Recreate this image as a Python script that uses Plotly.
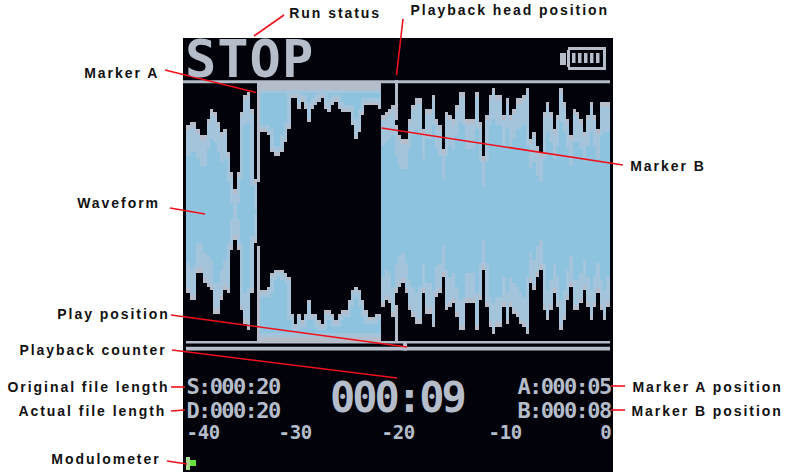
import numpy as np
import plotly.graph_objects as go

# Waveform envelope, in display rows of the 128-column device screen (index = column 1..126)
wave_top = [26,25,25,27,29,29,24,21,22,25,28,27,34,40,45,40,22,17,16,21,42,43,
            28,28,29,34,35,35,34,31,27,18,18,21,19,21,25,21,20,19,18,21,22,20,19,21,22,22,22,26,30,28,23,20,20,20,20,21,
            23,22,21,20,26,29,30,30,24,20,18,18,27,21,21,17,24,26,33,22,23,24,20,16,16,24,24,24,16,25,35,
            23,17,15,17,17,23,18,23,21,18,18,17,15,30,28,32,34,22,19,22,27,23,15,19,24,29,21,22,24,28,23,19,23,27,19,19,19]
wave_bot = [76,78,78,70,70,73,74,75,82,82,78,75,76,63,60,63,81,85,87,76,61,62,
            75,75,74,70,69,69,69,70,71,82,85,82,84,82,78,82,82,84,85,81,81,82,84,82,81,81,78,75,74,75,78,81,83,83,82,82,
            80,78,79,83,76,74,73,76,81,83,85,85,76,82,82,86,77,76,71,81,80,79,83,87,87,79,79,79,87,78,69,
            80,86,88,86,86,80,85,80,82,83,85,86,88,73,75,71,69,81,84,81,76,80,87,84,78,74,81,81,79,75,80,84,80,76,81,84,80]
marker_a_col = 22
marker_b_col = 58
head_col = 63
head_upper_end = 24.4
head_lower_start = 79.5
mod_stem_col = [1]
mod_stem_top = [124.7]
mod_stem_len = [3.9]
mod_level_cols = [2, 3]
mod_level_top = [125.6, 125.6]
mod_level_len = [1.8, 1.8]

run_status = "STOP"
counter = "000:09"
original_len = "S:000:20"
actual_len = "D:000:20"
marker_a_pos = "A:000:05"
marker_b_pos = "B:000:08"
scale_labels = ["-40", "-30", "-20", "-10", "0"]

callouts = [
    ("Run status", 335, 13, (254, 36), (284, 15)),
    ("Playback head position", 510, 10, (396.5, 75), (403, 19)),
    ("Marker A", 121, 73, (256, 92.5), (165, 70)),
    ("Marker B", 668, 166, (381.5, 128), (623, 165)),
    ("Waveform", 118, 203, (205, 214), (170, 208)),
    ("Play position", 113, 314, (407, 347), (171, 315)),
    ("Playback counter", 93, 350, (397, 378), (172, 350)),
    ("Original file length", 88, 387, (185, 387), (171, 387)),
    ("Actual file length", 92, 411, (185, 410), (171, 411)),
    ("Marker A position", 707, 387, (611, 386), (625, 386)),
    ("Marker B position", 707, 411, (611, 410), (625, 410)),
    ("Modulometer", 106, 459, (187, 464), (167, 461)),
]

W, H = 793, 472
X0, Y0, S = 183.0, 38.0, 3.36
GREY, MID, BLUE, RED, BG = "#b5bdca", "#a3c4da", "#8ec3e0", "#f0101c", "#02030a"

def cx(p):
    return (p - X0) / S

def cy(p):
    return (p - Y0) / S

cols = np.arange(1, 127)
top = np.array(wave_top, float)
bot = np.array(wave_bot, float)
line_top, line_bot = 12.6, 13.5
wave_floor = 90.4

in_region = (cols >= marker_a_col) & (cols <= marker_b_col)
normal = ~in_region
region_core = in_region & (cols > marker_a_col)

def roll_max(a):
    return np.max([np.roll(a, 1), a, np.roll(a, -1)], axis=0)

def roll_min(a):
    return np.min([np.roll(a, 1), a, np.roll(a, -1)], axis=0)

fig = go.Figure()

def bars(x, start, stop, color):
    keep = stop > start
    fig.add_trace(go.Bar(x=x[keep] + 0.5, y=(stop - start)[keep], base=start[keep], width=1,
                         marker=dict(color=color, line=dict(width=0)), hoverinfo="skip"))

# outside A-B: envelope is light
bars(cols[normal], top[normal], bot[normal], GREY)
bars(cols[normal], (top + 1.5)[normal], (bot - 1.5)[normal], MID)
core_a = np.maximum(roll_max(top) + 2, top + 9)
core_b = np.minimum(roll_min(bot) - 2, bot - 9)
bars(cols[normal], core_a[normal], core_b[normal], BLUE)
# inside A-B: inverted
reg = cols[in_region]
bars(reg, np.full(reg.size, line_bot), top[in_region], GREY)
bars(reg, bot[in_region], np.full(reg.size, wave_floor), GREY)
rc = cols[region_core]
bars(rc, np.full(rc.size, line_bot + 2), (top - 1)[region_core], MID)
bars(rc, (bot + 1)[region_core], np.full(rc.size, wave_floor - 1.5), MID)
bars(rc, np.full(rc.size, line_bot + 3), (roll_min(top) - 2)[region_core], BLUE)
bars(rc, (roll_max(bot) + 2)[region_core], np.full(rc.size, wave_floor - 2.5), BLUE)
# playback head: lit above and below the waveform
bars(np.array([head_col]), np.array([line_top]), np.array([head_upper_end]), GREY)
bars(np.array([head_col]), np.array([head_lower_start]), np.array([wave_floor + 0.5]), GREY)
# modulometer
bars(np.array(mod_stem_col, float), np.array(mod_stem_top), np.array(mod_stem_top) + np.array(mod_stem_len), "#a9d88f")
bars(np.array(mod_level_cols, float), np.array(mod_level_top), np.array(mod_level_top) + np.array(mod_level_len), "#66e040")

shapes = [dict(type="rect", layer="below", x0=cx(X0), x1=cx(613), y0=cy(Y0), y1=cy(472),
               fillcolor=BG, line_width=0)]
def hbar(x0, x1, y0, y1, color=GREY):
    shapes.append(dict(type="rect", layer="above", x0=x0, x1=x1, y0=y0, y1=y1, fillcolor=color, line_width=0))

# top line, play position lines and handle
hbar(cx(183), cx(610), line_top, line_bot)
hbar(cx(186), cx(610), cy(341), cy(343.5))
hbar(cx(186), cx(610), cy(346.7), cy(350.5))
hbar(cx(403), cx(407), cy(341), cy(350.5))
# battery
hbar(cx(568), cx(606), cy(47), cy(50))
hbar(cx(568), cx(606), cy(67), cy(70))
hbar(cx(567), cx(570), cy(50), cy(67))
hbar(cx(603), cx(606), cy(50), cy(67))
hbar(cx(560), cx(566), cy(53), cy(65))
for b in (572, 578, 584, 590, 596):
    hbar(cx(b), cx(b + 3.5), cy(53), cy(63))

for label, lx, ly, (ax, ay), (bx, by) in callouts:
    shapes.append(dict(type="line", layer="above", x0=cx(ax), y0=cy(ay), x1=cx(bx), y1=cy(by),
                       line=dict(color=RED, width=1.6)))

annotations = []
for label, lx, ly, _, _ in callouts:
    annotations.append(dict(x=cx(lx), y=cy(ly), text=label, showarrow=False,
                            font=dict(family="Liberation Sans", size=14, color="#111111", weight="bold")))

def oled(text, x, y, size):
    annotations.append(dict(x=cx(x), y=cy(y), text=text, showarrow=False,
                            font=dict(family="DejaVu Sans Mono", size=size, color=GREY, weight="bold")))

oled(run_status, 249.5, 59, 52)
oled(counter, 397, 397, 42)
oled(original_len, 232.5, 386, 22)
oled(actual_len, 232.5, 410, 22)
oled(marker_a_pos, 564, 386, 22)
oled(marker_b_pos, 564, 410, 22)
for t, x in zip(scale_labels, [202.5, 295, 398, 505, 605]):
    oled(t, x, 432, 19)

fig.update_layout(
    width=W, height=H, autosize=False, margin=dict(l=0, r=0, t=0, b=0, pad=0),
    paper_bgcolor="white", plot_bgcolor="white", showlegend=False, barmode="overlay", bargap=0,
    xaxis=dict(range=[cx(0), cx(W)], visible=False, fixedrange=True),
    yaxis=dict(range=[cy(H), cy(0)], visible=False, fixedrange=True),
    shapes=shapes, annotations=annotations,
)

post = """
document.body.style.margin='0';
document.querySelectorAll('.annotation-text').forEach(function(t){
  var f=t.style.fontFamily||'', s=parseFloat(t.style.fontSize);
  if(f.indexOf('Liberation')>=0){t.style.letterSpacing='1.95px';}
  else if(s>50){t.style.letterSpacing='1px';}
  else if(s>40){t.style.letterSpacing='-3px';}
  else if(s>20){t.style.letterSpacing='-1.6px';}
  else{t.style.letterSpacing='-0.4px';}
});
"""
fig.write_html("out.html", post_script=post, config=dict(displayModeBar=False))
